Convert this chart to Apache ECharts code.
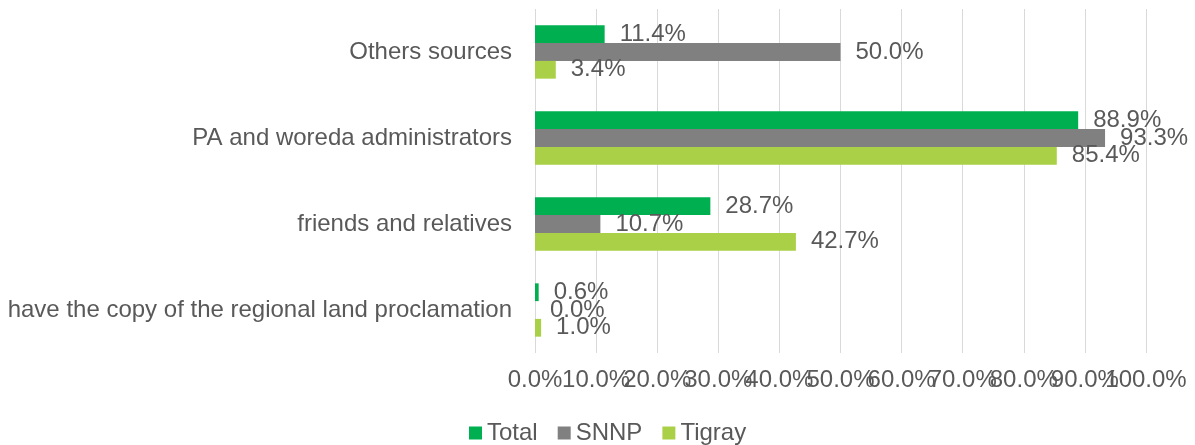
<!DOCTYPE html>
<html>
<head>
<meta charset="utf-8">
<script src="https://cdn.jsdelivr.net/npm/echarts@6/dist/echarts.min.js"></script>
<style>
html,body{margin:0;padding:0;background:#fff;}
#chart{width:1195px;height:445px;}
</style>
</head>
<body>
<div id="chart"></div>
<script>
var categories = ['Others sources', 'PA and woreda administrators', 'friends and relatives', 'have the copy of the regional land proclamation'];
var seriesNames = ['Total', 'SNNP', 'Tigray'];
var totalValues = [11.4, 88.9, 28.7, 0.6];
var snnpValues = [50.0, 93.3, 10.7, 0.0];
var tigrayValues = [3.4, 85.4, 42.7, 1.0];
var xTicks = [0, 10, 20, 30, 40, 50, 60, 70, 80, 90, 100];

var colors = ['#00B050', '#808080', '#A9D046'];
var textColor = '#595959';
var fontFamily = "'Liberation Sans', Arial, sans-serif";
var fs = 24;

function mkSeries(name, data, color) {
  return {
    name: name,
    type: 'bar',
    data: data,
    xAxisIndex: 0,
    barGap: '0%',
    barCategoryGap: '38%',
    itemStyle: { color: color },
    label: {
      show: true,
      position: 'right',
      distance: 15,
      color: textColor,
      fontFamily: fontFamily,
      fontSize: fs,
      formatter: function (p) { return p.value.toFixed(1) + '%'; }
    },
    labelLayout: { hideOverlap: false }
  };
}

// Two overlaid value axes share the tick labels (even / odd ticks) so that
// overlapping labels are all drawn, as in the reference.
function tickAxis(showEven, withGrid) {
  return {
    type: 'value',
    position: 'bottom',
    min: xTicks[0],
    max: xTicks[xTicks.length - 1],
    interval: 10,
    axisLine: { show: false },
    axisTick: { show: false },
    splitLine: { show: withGrid, lineStyle: { color: '#D9D9D9', width: 1 } },
    axisLabel: {
      color: textColor,
      fontSize: fs,
      fontFamily: fontFamily,
      margin: 15,
      hideOverlap: false,
      showMinLabel: true,
      showMaxLabel: true,
      formatter: function (v) {
        var idx = Math.round(v / 10);
        var even = idx % 2 === 0;
        if (even !== showEven) return '';
        return v.toFixed(1) + '%';
      }
    }
  };
}

var chart = echarts.init(document.getElementById('chart'));
chart.setOption({
  animation: false,
  color: colors,
  grid: { left: 535, right: 49, top: 9, bottom: 92, containLabel: false },
  legend: {
    data: seriesNames,
    top: 416,
    left: 464,
    itemWidth: 13,
    itemHeight: 13,
    itemGap: 20,
    icon: 'rect',
    textStyle: { color: textColor, fontSize: fs, fontFamily: fontFamily }
  },
  xAxis: [tickAxis(true, true), tickAxis(false, false)],
  yAxis: {
    type: 'category',
    data: categories,
    inverse: true,
    axisLine: { show: false },
    axisTick: { show: false },
    axisLabel: {
      color: textColor,
      fontSize: fs,
      fontFamily: fontFamily,
      margin: 23,
      interval: 0
    }
  },
  series: [
    mkSeries(seriesNames[0], totalValues, colors[0]),
    mkSeries(seriesNames[1], snnpValues, colors[1]),
    mkSeries(seriesNames[2], tigrayValues, colors[2])
  ]
});
</script>
</body>
</html>
